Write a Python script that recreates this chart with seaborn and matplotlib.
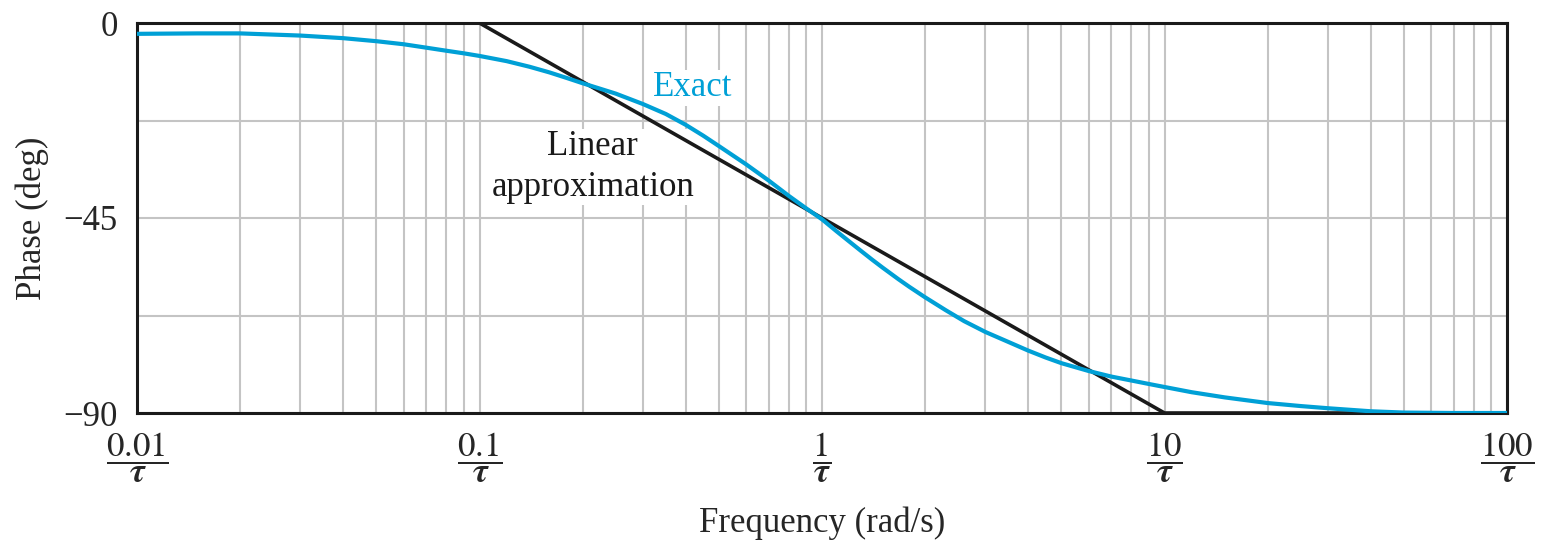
import numpy as np
import pandas as pd
import matplotlib
matplotlib.use("Agg")
import matplotlib.pyplot as plt
import seaborn as sns

# ---- data ----
freq_exact = [0.01, 0.015, 0.02, 0.03, 0.04, 0.05, 0.06, 0.07, 0.08, 0.09, 0.1, 0.12, 0.14,
              0.16, 0.18, 0.2, 0.25, 0.3, 0.35, 0.4, 0.45, 0.5, 0.6, 0.7, 0.8, 0.9, 1.0,
              1.1, 1.2, 1.3, 1.4, 1.5, 1.67, 1.8, 2.0, 2.3, 2.6, 3.0, 3.5, 4.0, 4.5, 5.0,
              6.0, 7.0, 8.0, 9.0, 10.0, 12.0, 15.0, 20.0, 25.0, 30.0, 40.0, 50.0, 70.0, 100.0]
phase_exact = [-2.5, -2.4, -2.4, -2.9, -3.5, -4.2, -4.9, -5.7, -6.4, -7.0, -7.6, -8.8, -10.1,
               -11.4, -12.7, -13.9, -16.3, -18.7, -21.0, -23.5, -26.0, -28.4, -32.6, -36.4,
               -39.9, -42.8, -45.3, -48.0, -50.4, -52.6, -54.6, -56.4, -59.1, -60.9, -63.3,
               -66.3, -68.8, -71.3, -73.6, -75.6, -77.2, -78.5, -80.3, -81.6, -82.5, -83.3,
               -84.0, -85.2, -86.4, -87.7, -88.4, -88.9, -89.6, -89.9, -90.0, -90.0]

freq_linear = [0.01, 0.1, 10.0, 100.0]
phase_linear = [0.0, 0.0, -90.0, -90.0]

xtick_values = [0.01, 0.1, 1, 10, 100]
xtick_labels = [r"$\dfrac{0.01}{\boldsymbol{\tau}}$", r"$\dfrac{0.1}{\boldsymbol{\tau}}$",
                r"$\dfrac{1}{\boldsymbol{\tau}}$", r"$\dfrac{10}{\boldsymbol{\tau}}$",
                r"$\dfrac{100}{\boldsymbol{\tau}}$"]
ytick_values = [0, -45, -90]
ytick_labels = ["0", "\u221245", "\u221290"]

df_exact = pd.DataFrame({"freq": freq_exact, "phase": phase_exact})
df_lin = pd.DataFrame({"freq": freq_linear, "phase": phase_linear})

sns.set_style("white")
plt.rcParams["font.family"] = ["Liberation Serif", "DejaVu Serif"]
plt.rcParams["mathtext.fontset"] = "stix"

fig = plt.figure(figsize=(15.41, 5.41), dpi=100)
ax = fig.add_axes([137/1541, 1 - 413/541, (1507-137)/1541, (413-23)/541])

cyan = "#00a0d6"
sns.lineplot(data=df_exact, x="freq", y="phase", ax=ax, color=cyan, lw=3.0, zorder=4,
             estimator=None, sort=False)
sns.lineplot(data=df_lin, x="freq", y="phase", ax=ax, color="#1a1a1a", lw=2.6, zorder=3,
             estimator=None, sort=False)

ax.set_xscale("log")
ax.set_xlim(0.01, 100)
ax.set_ylim(-90, 0)

ax.set_xticks(xtick_values)
ax.set_xticklabels(xtick_labels, fontsize=25)
ax.set_xticks([m * 10.0**e for e in range(-2, 2) for m in range(2, 10)], minor=True)
ax.xaxis.set_minor_formatter(matplotlib.ticker.NullFormatter())
ax.set_yticks(ytick_values)
ax.set_yticklabels(ytick_labels, fontsize=25)
ax.set_yticks([-22.5, -67.5], minor=True)
ax.yaxis.set_minor_formatter(matplotlib.ticker.NullFormatter())

ax.grid(True, which="both", color="#c4c4c4", lw=1.5, zorder=0)
ax.set_axisbelow(True)
ax.tick_params(axis="both", which="both", length=0)
ax.tick_params(axis="y", pad=14)
ax.tick_params(axis="x", pad=12)

for s in ax.spines.values():
    s.set_color("#1a1a1a")
    s.set_linewidth(2.2)

ax.set_xlabel("Frequency (rad/s)", fontsize=25, labelpad=16)
ax.set_ylabel("Phase (deg)", fontsize=25, labelpad=10)

ax.text(0.42, -15.0, "Exact", color=cyan, fontsize=25, ha="center", va="center",
        zorder=2, bbox=dict(facecolor="white", edgecolor="none", pad=1))
ax.text(0.214, -33.2, "Linear\napproximation", color="#1a1a1a", fontsize=25,
        ha="center", va="center", linespacing=1.3, zorder=2,
        bbox=dict(facecolor="white", edgecolor="none", pad=1))

fig.savefig("out.png", dpi=100)
